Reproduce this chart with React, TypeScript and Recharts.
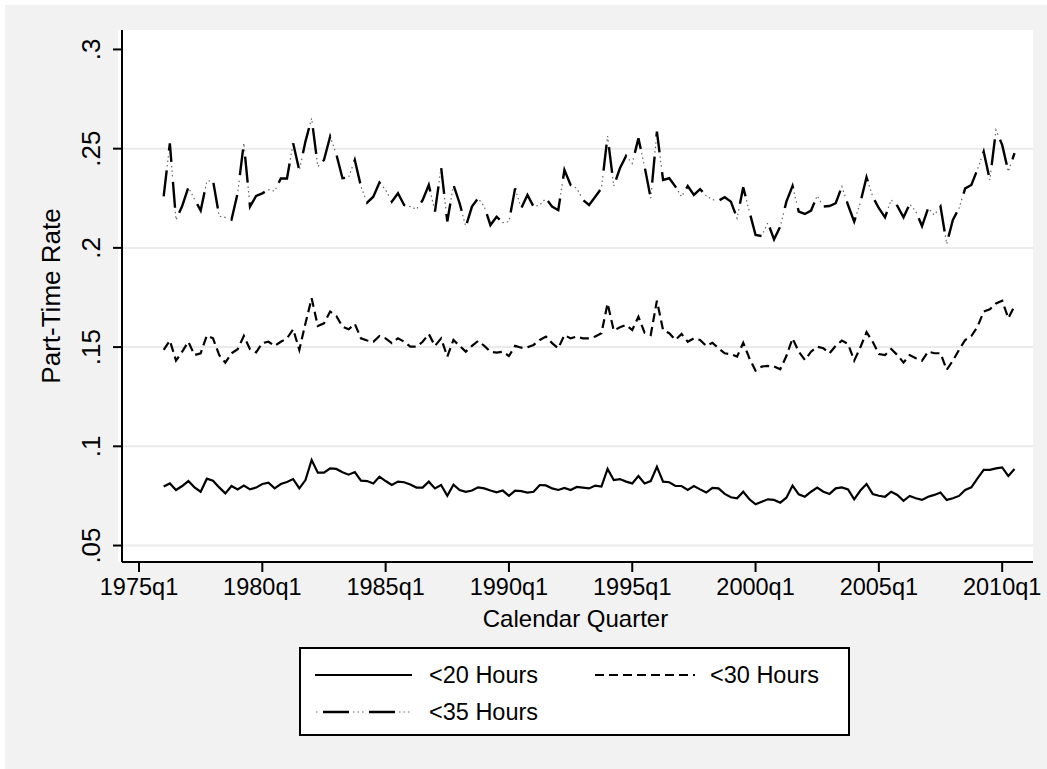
import React from 'react';
import { LineChart, Line, XAxis, YAxis, ReferenceLine } from 'recharts';

// quarters counted from 1975q1 (= 0); first observation is 1976q1
const firstQuarter = 4;

const under20 = [
  0.0797, 0.0813, 0.0780, 0.0800, 0.0825, 0.0793, 0.0771, 0.0837, 0.0827, 0.0793,
  0.0763, 0.0800, 0.0783, 0.0802, 0.0783, 0.0792, 0.0810, 0.0817, 0.0788, 0.0810,
  0.0820, 0.0835, 0.0788, 0.0830, 0.0931, 0.0867, 0.0867, 0.0889, 0.0886, 0.0869,
  0.0857, 0.0870, 0.0827, 0.0825, 0.0813, 0.0847, 0.0825, 0.0805, 0.0822, 0.0819,
  0.0808, 0.0792, 0.0792, 0.0822, 0.0788, 0.0805, 0.0751, 0.0807, 0.0780, 0.0771,
  0.0777, 0.0793, 0.0788, 0.0777, 0.0768, 0.0777, 0.0751, 0.0777, 0.0774, 0.0767,
  0.0771, 0.0805, 0.0803, 0.0788, 0.0780, 0.0790, 0.0780, 0.0795, 0.0792, 0.0788,
  0.0802, 0.0797, 0.0886, 0.0830, 0.0835, 0.0822, 0.0813, 0.0850, 0.0813, 0.0825,
  0.0897, 0.0822, 0.0819, 0.0800, 0.0800, 0.0780, 0.0800, 0.0783, 0.0767, 0.0790,
  0.0788, 0.0760, 0.0743, 0.0738, 0.0771, 0.0733, 0.0708, 0.0721, 0.0733, 0.0730,
  0.0716, 0.0741, 0.0802, 0.0758, 0.0746, 0.0771, 0.0792, 0.0771, 0.0760, 0.0788,
  0.0793, 0.0783, 0.0733, 0.0777, 0.0810, 0.0760, 0.0751, 0.0746, 0.0771, 0.0755,
  0.0725, 0.0750, 0.0738, 0.0730, 0.0746, 0.0755, 0.0767, 0.0730, 0.0738, 0.0750,
  0.0780, 0.0793, 0.0839, 0.0881, 0.0881, 0.0889, 0.0894, 0.0850, 0.0886,
];

const under30 = [
  0.1486, 0.1533, 0.1432, 0.1477, 0.1527, 0.1460, 0.1469, 0.1558, 0.1544, 0.1460,
  0.1422, 0.1469, 0.1489, 0.1556, 0.1489, 0.1474, 0.1520, 0.1527, 0.1506, 0.1527,
  0.1544, 0.1590, 0.1486, 0.1620, 0.1746, 0.1606, 0.1620, 0.1679, 0.1657, 0.1603,
  0.1590, 0.1617, 0.1544, 0.1533, 0.1527, 0.1556, 0.1544, 0.1520, 0.1544, 0.1527,
  0.1502, 0.1502, 0.1527, 0.1566, 0.1506, 0.1544, 0.1452, 0.1536, 0.1506, 0.1477,
  0.1506, 0.1531, 0.1506, 0.1477, 0.1472, 0.1477, 0.1455, 0.1506, 0.1497, 0.1499,
  0.1511, 0.1536, 0.1553, 0.1520, 0.1494, 0.1561, 0.1544, 0.1553, 0.1544, 0.1544,
  0.1553, 0.1570, 0.1720, 0.1583, 0.1600, 0.1612, 0.1586, 0.1653, 0.1573, 0.1561,
  0.1734, 0.1586, 0.1570, 0.1536, 0.1566, 0.1527, 0.1544, 0.1536, 0.1506, 0.1522,
  0.1494, 0.1469, 0.1464, 0.1452, 0.1522, 0.1444, 0.1381, 0.1402, 0.1405, 0.1402,
  0.1388, 0.1455, 0.1544, 0.1477, 0.1435, 0.1477, 0.1502, 0.1494, 0.1469, 0.1506,
  0.1533, 0.1516, 0.1432, 0.1499, 0.1575, 0.1527, 0.1465, 0.1460, 0.1490, 0.1460,
  0.1422, 0.1460, 0.1444, 0.1432, 0.1477, 0.1469, 0.1469, 0.1385, 0.1432, 0.1486,
  0.1536, 0.1556, 0.1603, 0.1679, 0.1691, 0.1720, 0.1734, 0.1645, 0.1707,
];

const under35 = [
  0.2260, 0.2527, 0.2141, 0.2211, 0.2305, 0.2245, 0.2188, 0.2336, 0.2340, 0.2160,
  0.2154, 0.2142, 0.2276, 0.2528, 0.2208, 0.2262, 0.2275, 0.2293, 0.2286, 0.2350,
  0.2350, 0.2527, 0.2390, 0.2537, 0.2653, 0.2410, 0.2443, 0.2561, 0.2472, 0.2351,
  0.2356, 0.2443, 0.2309, 0.2228, 0.2258, 0.2329, 0.2292, 0.2233, 0.2275, 0.2216,
  0.2208, 0.2195, 0.2240, 0.2317, 0.2183, 0.2406, 0.2133, 0.2317, 0.2225, 0.2107,
  0.2208, 0.2250, 0.2208, 0.2115, 0.2157, 0.2127, 0.2132, 0.2300, 0.2200, 0.2267,
  0.2208, 0.2216, 0.2250, 0.2208, 0.2190, 0.2393, 0.2317, 0.2300, 0.2242, 0.2216,
  0.2258, 0.2300, 0.2564, 0.2312, 0.2401, 0.2463, 0.2426, 0.2552, 0.2410, 0.2250,
  0.2586, 0.2342, 0.2351, 0.2309, 0.2258, 0.2312, 0.2267, 0.2296, 0.2262, 0.2243,
  0.2238, 0.2255, 0.2233, 0.2149, 0.2305, 0.2183, 0.2065, 0.2060, 0.2127, 0.2043,
  0.2107, 0.2233, 0.2312, 0.2183, 0.2171, 0.2188, 0.2262, 0.2208, 0.2211, 0.2225,
  0.2309, 0.2216, 0.2132, 0.2228, 0.2356, 0.2258, 0.2200, 0.2154, 0.2242, 0.2211,
  0.2154, 0.2221, 0.2183, 0.2110, 0.2200, 0.2166, 0.2208, 0.2020, 0.2141, 0.2200,
  0.2300, 0.2317, 0.2396, 0.2485, 0.2342, 0.2594, 0.2519, 0.2384, 0.2477,
];

const seriesNames = ['<20 Hours', '<30 Hours', '<35 Hours'];

const xTickValues = [0, 20, 40, 60, 80, 100, 120, 140];
const xTickLabels = ['1975q1', '1980q1', '1985q1', '1990q1', '1995q1', '2000q1', '2005q1', '2010q1'];
const yTickValues = [0.05, 0.1, 0.15, 0.2, 0.25, 0.3];
const yTickLabels = ['.05', '.1', '.15', '.2', '.25', '.3'];
const gridValues = [0.05, 0.1, 0.15, 0.2, 0.25];

const data = under20.map((v, i) => ({
  q: firstQuarter + i,
  h20: v,
  h30: under30[i],
  h35: under35[i],
}));

const FONT = '"Liberation Sans", Arial, Helvetica, sans-serif';
const FS_X = 23.5;
const FS_Y = 26;
const FS_XT = 24;
const FS_YT = 26;
const FS_LEG = 23.5;
const DASH35 = '26 20';
const DOTS35 = '0 30 1.5 3 1.5 3 1.5 5.5';

const XTick = (props: any) => {
  const { x, y, payload } = props;
  const idx = xTickValues.indexOf(payload.value);
  return (
    <text x={x} y={y + 21} textAnchor="middle" fontSize={FS_X} fontFamily={FONT} fill="#000">
      {xTickLabels[idx]}
    </text>
  );
};

const YTick = (props: any) => {
  const { x, y, payload } = props;
  const idx = yTickValues.findIndex((v) => Math.abs(v - payload.value) < 1e-9);
  const bx = x - 11;
  return (
    <text x={bx} y={y} transform={`rotate(-90 ${bx} ${y})`} textAnchor="middle" fontSize={FS_Y} fontFamily={FONT} fill="#000">
      {yTickLabels[idx]}
    </text>
  );
};

const YTitle = (p: any) => {
  const vb = p.viewBox || { x: 57, y: 25, width: 60, height: 532 };
  const cx = vb.x + vb.width - 62;
  const cy = vb.y + vb.height / 2;
  return (
    <text x={cx} y={cy} transform={`rotate(-90 ${cx} ${cy})`} textAnchor="middle" fontSize={FS_YT} fontFamily={FONT} fill="#000">
      Part-Time Rate
    </text>
  );
};

const XTitle = (p: any) => {
  const vb = p.viewBox || { x: 117, y: 557, width: 911, height: 60 };
  const cx = vb.x + vb.width / 2 - 2;
  const cy = vb.y + 65;
  return (
    <text x={cx} y={cy} textAnchor="middle" fontSize={FS_XT} fontFamily={FONT} fill="#000">
      Calendar Quarter
    </text>
  );
};

const LegendBox = () => (
  <svg width={551} height={89} style={{ position: 'absolute', left: 294, top: 642 }}>
    <rect x={1} y={1} width={549} height={87} fill="#fff" stroke="#000" strokeWidth={2} />
    <line x1={16} x2={113} y1={28} y2={28} stroke="#000" strokeWidth={2.2} />
    <text x={130} y={36} fontSize={FS_LEG} fontFamily={FONT} fill="#000">{seriesNames[0]}</text>
    <line x1={296} x2={396} y1={28} y2={28} stroke="#000" strokeWidth={2.2} strokeDasharray="9 5" />
    <text x={411} y={36} fontSize={FS_LEG} fontFamily={FONT} fill="#000">{seriesNames[1]}</text>
    <line x1={16} x2={113} y1={65} y2={65} stroke="#000" strokeWidth={2.4} strokeDasharray={DASH35} strokeDashoffset={-8} />
    <line x1={16} x2={113} y1={65} y2={65} stroke="#666" strokeWidth={1.2} strokeDasharray={DOTS35} strokeDashoffset={-8} />
    <text x={130} y={73} fontSize={FS_LEG} fontFamily={FONT} fill="#000">{seriesNames[2]}</text>
  </svg>
);

export default function App() {
  return (
    <div style={{ position: 'absolute', left: 5, top: 5, width: 1042, height: 764, background: '#f2f2f2', overflow: 'hidden' }}>
      <div style={{ position: 'absolute', left: 113, top: 25, width: 915, height: 532, background: '#fff' }} />
      <div style={{ position: 'absolute', left: 0, top: 0 }}>
        <LineChart width={1042} height={764} data={data} margin={{ top: 25, right: 14, bottom: 147, left: 57 }}>
          <XAxis
            type="number"
            dataKey="q"
            domain={[-2.76, 145]}
            ticks={xTickValues}
            interval={0}
            allowDataOverflow
            height={60}
            tickSize={10}
            axisLine={{ stroke: '#000', strokeWidth: 2 }}
            tickLine={{ stroke: '#000', strokeWidth: 2 }}
            tick={<XTick />}
            label={{ content: XTitle }}
          />
          <YAxis
            type="number"
            domain={[0.0417, 0.3098]}
            ticks={yTickValues}
            interval={0}
            allowDataOverflow
            width={60}
            tickSize={9}
            axisLine={{ stroke: '#000', strokeWidth: 2 }}
            tickLine={{ stroke: '#000', strokeWidth: 2 }}
            tick={<YTick />}
            label={{ content: YTitle }}
          />
          {gridValues.map((v) => (
            <ReferenceLine key={v} y={v} stroke="#eaeaea" strokeWidth={2} />
          ))}
          <Line type="linear" dataKey="h20" name={seriesNames[0]} stroke="#000" strokeWidth={2.2} dot={false} isAnimationActive={false} />
          <Line type="linear" dataKey="h30" name={seriesNames[1]} stroke="#000" strokeWidth={2.2} strokeDasharray="9 5" dot={false} isAnimationActive={false} />
          <Line type="linear" dataKey="h35" name={seriesNames[2]} stroke="#000" strokeWidth={2.4} strokeDasharray={DASH35} dot={false} isAnimationActive={false} />
          <Line type="linear" dataKey="h35" name={seriesNames[2] + ' dots'} stroke="#666" strokeWidth={1.2} strokeDasharray={DOTS35} dot={false} isAnimationActive={false} legendType="none" />
        </LineChart>
      </div>
      <LegendBox />
    </div>
  );
}
